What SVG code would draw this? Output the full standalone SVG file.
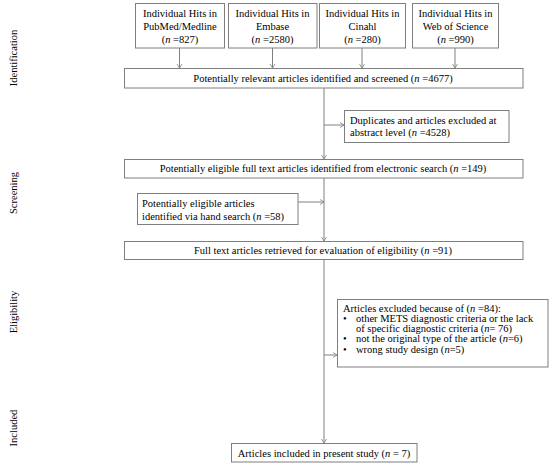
<svg xmlns="http://www.w3.org/2000/svg" width="550" height="466" viewBox="0 0 550 466">
<style>
.box{fill:#fff;stroke:#7f7f7f;stroke-width:1}
text{font-family:"Liberation Serif","Times New Roman","DejaVu Serif",serif;font-size:10.5px;fill:#000}
.c{text-anchor:middle}
.ln{stroke:#808080;stroke-width:1;fill:none}
.i{font-style:italic}
</style>
<defs>
<marker id="ah" markerWidth="8" markerHeight="8" refX="5" refY="3" orient="auto" markerUnits="userSpaceOnUse">
<polyline points="1,0.5 5,3 1,5.5" fill="none" stroke="#808080" stroke-width="0.8"/>
</marker>
</defs>
<g id="phases">
<text transform="translate(17,58) rotate(-90)" class="c">Identification</text>
<text transform="translate(17,193) rotate(-90)" class="c">Screening</text>
<text transform="translate(17,312) rotate(-90)" class="c">Eligibility</text>
<text transform="translate(17,428) rotate(-90)" class="c">Included</text>
</g>
<g id="connectors">
<line class="ln" x1="179.5" y1="48" x2="179.5" y2="68" marker-end="url(#ah)"/>
<line class="ln" x1="272.5" y1="48" x2="272.5" y2="68" marker-end="url(#ah)"/>
<line class="ln" x1="362" y1="48" x2="362" y2="68" marker-end="url(#ah)"/>
<line class="ln" x1="455" y1="48" x2="455" y2="68" marker-end="url(#ah)"/>
<line class="ln" x1="324" y1="88" x2="324" y2="159" marker-end="url(#ah)"/>
<line class="ln" x1="324" y1="125" x2="344" y2="125" marker-end="url(#ah)"/>
<line class="ln" x1="324" y1="178" x2="324" y2="241" marker-end="url(#ah)"/>
<line class="ln" x1="298" y1="202" x2="324" y2="202" marker-end="url(#ah)"/>
<line class="ln" x1="324" y1="259" x2="324" y2="443" marker-end="url(#ah)"/>
<line class="ln" x1="324" y1="355" x2="337" y2="355" marker-end="url(#ah)"/>
</g>
<g id="pubmed">
<rect class="box" x="135.5" y="3.5" width="89" height="44.5"/>
<text class="c" x="180" y="17">Individual Hits in</text>
<text class="c" x="180" y="30">PubMed/Medline</text>
<text class="c" x="180" y="43">(<tspan class="i">n</tspan> =827)</text>
</g>
<g id="embase">
<rect class="box" x="228.5" y="3.5" width="88.5" height="44.5"/>
<text class="c" x="272.5" y="17">Individual Hits in</text>
<text class="c" x="272.5" y="30">Embase</text>
<text class="c" x="272.5" y="43">(<tspan class="i">n</tspan> =2580)</text>
</g>
<g id="cinahl">
<rect class="box" x="319.5" y="3.5" width="86" height="44.5"/>
<text class="c" x="362.5" y="17">Individual Hits in</text>
<text class="c" x="362.5" y="30">Cinahl</text>
<text class="c" x="362.5" y="43">(<tspan class="i">n</tspan> =280)</text>
</g>
<g id="wos">
<rect class="box" x="412.5" y="3.5" width="86" height="44.5"/>
<text class="c" x="455.5" y="17">Individual Hits in</text>
<text class="c" x="455.5" y="30">Web of Science</text>
<text class="c" x="455.5" y="43">(<tspan class="i">n</tspan> =990)</text>
</g>
<g id="screened">
<rect class="box" x="124.5" y="68.5" width="398.5" height="19.5"/>
<text class="c" x="323" y="82">Potentially relevant articles identified and screened (<tspan class="i">n</tspan> =4677)</text>
</g>
<g id="duplicates">
<rect class="box" x="344.5" y="110.5" width="164.5" height="32"/>
<text x="350" y="123.5">Duplicates and articles excluded at</text>
<text x="350" y="136">abstract level (<tspan class="i">n</tspan> =4528)</text>
</g>
<g id="eligible">
<rect class="box" x="124.5" y="159.5" width="398.5" height="18.5"/>
<text class="c" x="323" y="172">Potentially eligible  full text articles identified from electronic search (<tspan class="i">n</tspan> =149)</text>
</g>
<g id="handsearch">
<rect class="box" x="137.5" y="193.5" width="160.5" height="31"/>
<text x="142" y="206.5">Potentially eligible articles</text>
<text x="142" y="220">identified via hand search (<tspan class="i">n</tspan> =58)</text>
</g>
<g id="fulltext">
<rect class="box" x="124.5" y="241.5" width="398.5" height="18"/>
<text class="c" x="323" y="254">Full text articles retrieved for evaluation of eligibility  (<tspan class="i">n</tspan> =91)</text>
</g>
<g id="excluded">
<rect class="box" x="337.5" y="299.5" width="210.5" height="67.5"/>
<text x="343" y="311.5">Articles excluded because of (<tspan class="i">n</tspan> =84):</text>
<text x="343" y="321.5">•</text>
<text x="356" y="321.5">other METS diagnostic criteria or the lack</text>
<text x="356" y="331.8">of specific diagnostic criteria (<tspan class="i">n</tspan>= 76)</text>
<text x="343" y="342">•</text>
<text x="356" y="342">not the original  type of the article (<tspan class="i">n</tspan>=6)</text>
<text x="343" y="352.5">•</text>
<text x="356" y="352.5">wrong study design (<tspan class="i">n</tspan>=5)</text>
</g>
<g id="included">
<rect class="box" x="231.5" y="443.5" width="185.5" height="18.5"/>
<text class="c" x="324" y="456.5">Articles included in present study (<tspan class="i">n</tspan> = 7)</text>
</g>
</svg>
